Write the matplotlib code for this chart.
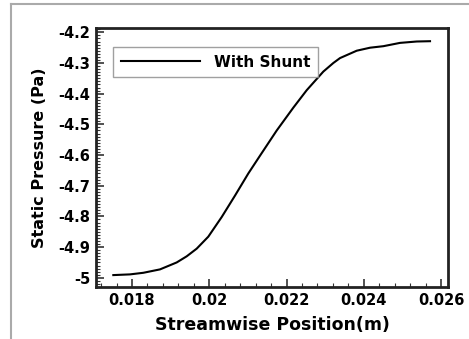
import matplotlib
matplotlib.use("Agg")
import matplotlib.pyplot as plt
from matplotlib.ticker import MultipleLocator
from matplotlib.lines import Line2D


# Streamwise position (m) and static pressure (Pa)
position = [0.017516, 0.017948, 0.018293, 0.018725, 0.019157, 0.019416,
            0.019675, 0.019975, 0.020322, 0.020667, 0.021011, 0.021314,
            0.021746, 0.022176, 0.022523, 0.022953, 0.023212, 0.023385,
            0.023817, 0.024162, 0.024506, 0.024938, 0.025371, 0.025715]
pressure = [-4.9912, -4.9889, -4.9837, -4.9726, -4.9500, -4.9300,
            -4.9050, -4.8660, -4.8020, -4.7320, -4.6600, -4.6020,
            -4.5200, -4.4456, -4.3886, -4.3280, -4.3000, -4.2840,
            -4.2600, -4.2502, -4.2453, -4.2345, -4.2300, -4.2290]
series_label = "With Shunt"
x_ticks = [0.018, 0.02, 0.022, 0.024, 0.026]
x_ticklabels = ["0.018", "0.02", "0.022", "0.024", "0.026"]
y_ticks = [-5, -4.9, -4.8, -4.7, -4.6, -4.5, -4.4, -4.3, -4.2]
y_ticklabels = ["-5", "-4.9", "-4.8", "-4.7", "-4.6", "-4.5",
                "-4.4", "-4.3", "-4.2"]

plt.rcParams["font.family"] = ["DejaVu Sans"]
plt.rcParams["font.weight"] = "bold"

fig = plt.figure(figsize=(4.69, 3.39), dpi=100)
ax = fig.add_axes([0.2047, 0.1534, 0.7505, 0.764])

ax.plot(position, pressure, color="black", lw=1.5, label=series_label,
        solid_joinstyle="round")

ax.set_xlim(0.017068, 0.02618)
ax.set_ylim(-5.030, -4.186)
ax.xaxis.set_minor_locator(MultipleLocator(0.0004))
ax.yaxis.set_minor_locator(MultipleLocator(0.01))
ax.set_xticks(x_ticks)
ax.set_xticklabels(x_ticklabels)
ax.set_yticks(y_ticks)
ax.set_yticklabels(y_ticklabels)

ax.tick_params(which="both", direction="in", top=False, right=False,
               colors="#333333", labelcolor="black", labelsize=10.5)
ax.tick_params(which="major", length=6, width=1.2, pad=4)
ax.tick_params(which="minor", length=3, width=0.8)
for sp in ax.spines.values():
    sp.set_linewidth(2)
    sp.set_color("#222222")

ax.set_xlabel("Streamwise Position(m)", fontsize=12.5, fontweight="bold",
              labelpad=6)
ax.set_ylabel("Static Pressure (Pa)", fontsize=11.5, fontweight="bold",
              labelpad=8)

leg = ax.legend(loc="upper left", bbox_to_anchor=(0.048, 0.927),
                fontsize=11, handlelength=5.2, handletextpad=0.9,
                borderpad=0.5, borderaxespad=0, fancybox=False,
                frameon=True)
leg.get_frame().set_edgecolor("#888888")
leg.get_frame().set_linewidth(1.0)

# gray page frame on the left and top edges
fig.add_artist(Line2D([11 / 469, 11 / 469], [0, 1 - 4 / 339],
                      transform=fig.transFigure, color="#aaaaaa", lw=1.5))
fig.add_artist(Line2D([11 / 469, 1], [1 - 4 / 339, 1 - 4 / 339],
                      transform=fig.transFigure, color="#aaaaaa", lw=1.5))

fig.savefig("out.png", dpi=100)
